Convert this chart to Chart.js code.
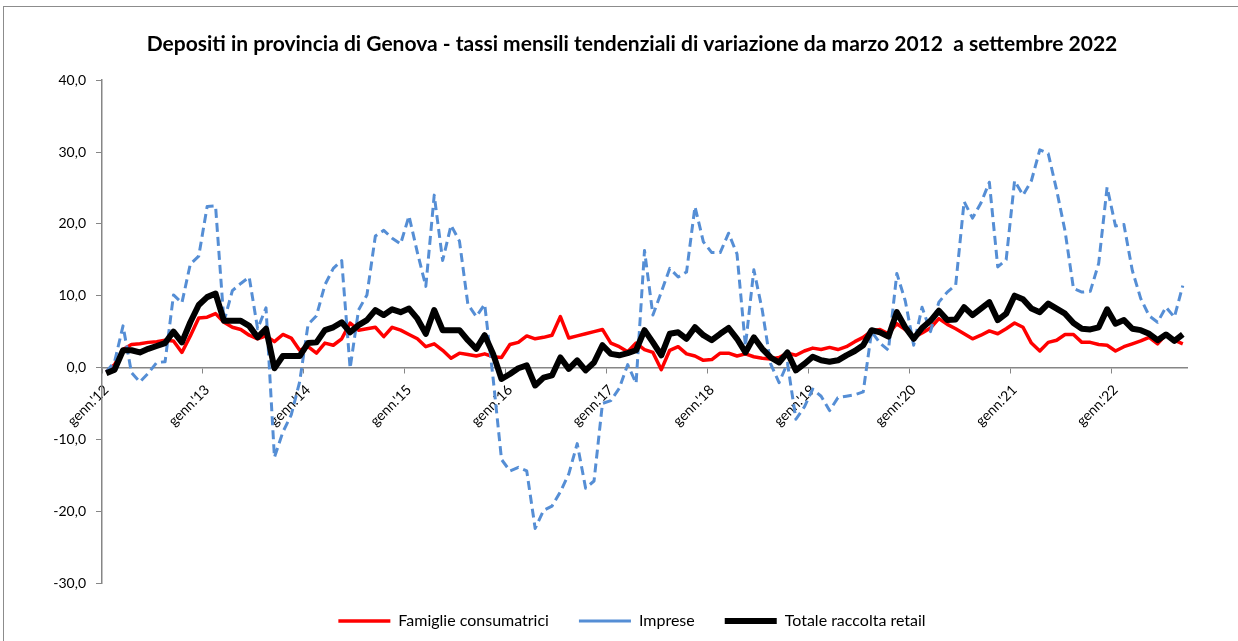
<!DOCTYPE html>
<html>
<head>
<meta charset="utf-8">
<script src="https://cdn.jsdelivr.net/npm/chart.js@4/dist/chart.umd.min.js"></script>
<style>
    body { margin: 0; background: #ffffff; overflow: hidden; }
    .frame { position: absolute; left: 3px; top: 6px; width: 1300px; height: 700px; border: 1px solid #8c8c8c; }
    #depositChart { position: absolute; left: 0; top: 0; }
</style>
</head>
<body>
<div class="frame"></div>
<canvas id="depositChart" width="1238" height="641"></canvas>
<script>
// --- Data: monthly values, gennaio 2012 - settembre 2022 ---
const yearTicks = ["genn.'12", "genn.'13", "genn.'14", "genn.'15", "genn.'16", "genn.'17",
    "genn.'18", "genn.'19", "genn.'20", "genn.'21", "genn.'22"];
const monthsInLastYear = 9;

const famiglie = [
    -0.6, 0.4, 2.5, 3.2, 3.3, 3.5, 3.6, 3.8, 3.7, 2.1, 4.4, 6.9,
    7.0, 7.5, 6.3, 5.6, 5.3, 4.5, 4.0, 4.4, 3.6, 4.6, 4.1, 2.4,
    2.9, 2.0, 3.4, 3.1, 4.0, 6.2, 5.2, 5.4, 5.6, 4.3, 5.6, 5.2,
    4.6, 4.0, 2.9, 3.3, 2.4, 1.3, 2.0, 1.8, 1.6, 1.9, 1.5, 1.4,
    3.2, 3.5, 4.4, 4.0, 4.2, 4.5, 7.1, 4.1, 4.4, 4.7, 5.0, 5.3,
    3.4, 2.9, 2.2, 3.4, 2.5, 2.1, -0.3, 2.4, 2.9, 1.9, 1.6, 1.0,
    1.1, 2.0, 2.0, 1.6, 1.9, 1.5, 1.3, 1.2, 1.4, 2.0, 1.7, 2.3,
    2.7, 2.5, 2.8, 2.5, 2.9, 3.6, 4.2, 5.1, 5.3, 4.7, 6.1, 5.3,
    4.2, 4.8, 5.5, 6.8, 6.0, 5.4, 4.7, 4.0, 4.5, 5.1, 4.7, 5.4,
    6.2, 5.6, 3.4, 2.3, 3.5, 3.8, 4.6, 4.6, 3.5, 3.5, 3.2, 3.1,
    2.3, 2.9, 3.3, 3.7, 4.2, 3.3, 4.6, 3.8, 3.3
];

const imprese = [
    -0.6, 0.8, 5.8, -0.7, -2.0, -0.8, 0.7, 0.8, 10.1, 9.0, 14.4, 15.5,
    22.4, 22.5, 6.4, 10.7, 11.7, 12.6, 5.4, 8.3, -12.5, -9.0, -6.6, -2.0,
    6.0, 7.2, 11.5, 13.8, 14.9, -0.1, 8.0, 10.1, 18.3, 19.1, 18.0, 17.2,
    21.1, 16.0, 11.3, 24.0, 14.9, 19.8, 17.6, 8.8, 7.1, 8.8, -1.5, -12.8,
    -14.4, -13.9, -14.4, -22.4, -19.9, -19.3, -17.3, -14.8, -10.6, -16.8, -15.8, -5.0,
    -4.6, -2.9, 0.4, -2.2, 16.3, 7.3, 10.5, 13.8, 12.6, 13.3, 22.4, 17.5,
    16.0, 16.0, 18.7, 15.8, 3.0, 13.6, 8.0, 0.5, -2.1, 0.6, -7.2, -5.5,
    -3.0, -4.0, -6.0, -4.2, -4.0, -3.8, -3.4, 5.0, 3.4, 2.4, 13.1, 9.3,
    3.1, 8.4, 5.0, 9.1, 10.5, 11.5, 23.1, 20.8, 22.9, 25.8, 14.0, 15.0,
    26.0, 24.0, 26.0, 30.3, 29.8, 24.7, 19.0, 11.0, 10.5, 10.6, 14.5, 25.1,
    19.7, 19.9, 13.5, 9.6, 7.2, 6.3, 8.4, 7.0, 11.4
];

const totale = [
    -0.8, -0.3, 2.4, 2.4, 2.1, 2.6, 3.0, 3.4, 5.0, 3.5, 6.3, 8.7,
    9.8, 10.3, 6.5, 6.5, 6.5, 5.8, 4.2, 5.4, -0.1, 1.6, 1.6, 1.6,
    3.4, 3.5, 5.2, 5.6, 6.3, 4.9, 5.9, 6.6, 8.0, 7.3, 8.1, 7.7,
    8.2, 6.8, 4.7, 8.0, 5.2, 5.2, 5.2, 3.8, 2.6, 4.5, 1.9, -1.6,
    -0.9, -0.1, 0.3, -2.5, -1.4, -1.1, 1.4, -0.2, 1.0, -0.4, 0.7, 3.1,
    1.9, 1.7, 2.0, 2.4, 5.2, 3.5, 1.7, 4.7, 4.9, 4.0, 5.6, 4.5,
    3.8, 4.7, 5.5, 4.0, 2.1, 4.2, 2.6, 1.4, 0.7, 2.1, -0.4, 0.5,
    1.5, 1.0, 0.8, 1.0, 1.7, 2.3, 3.1, 5.2, 4.9, 4.3, 7.7, 5.6,
    4.0, 5.5, 6.5, 7.9, 6.6, 6.7, 8.4, 7.3, 8.2, 9.1, 6.6, 7.5,
    10.0, 9.5, 8.2, 7.7, 8.9, 8.2, 7.5, 6.2, 5.4, 5.3, 5.6, 8.1,
    6.1, 6.6, 5.4, 5.2, 4.7, 3.8, 4.6, 3.7, 4.6
];

// one category per month, only January carries a label
const labels = [];
yearTicks.forEach((tick, y) => {
    const n = (y === yearTicks.length - 1) ? monthsInLastYear : 12;
    for (let m = 0; m < n; m++) labels.push(m === 0 ? tick : '');
});

const axisGray = '#868686';
const fontFamily = 'Lato, "Open Sans", sans-serif';

const ctx = document.getElementById('depositChart').getContext('2d');
new Chart(ctx, {
    type: 'line',
    data: {
        labels: labels,
        datasets: [{
            label: 'Famiglie consumatrici',
            data: famiglie,
            borderColor: '#ff0000',
            backgroundColor: '#ff0000',
            borderWidth: 3.5,
            order: 2
        }, {
            label: 'Imprese',
            data: imprese,
            borderColor: '#558ed5',
            backgroundColor: '#558ed5',
            borderWidth: 3,
            borderDash: [9, 5],
            order: 1
        }, {
            label: 'Totale raccolta retail',
            data: totale,
            borderColor: '#000000',
            backgroundColor: '#000000',
            borderWidth: 6,
            order: 0
        }]
    },
    options: {
        responsive: false,
        animation: false,
        elements: {
            point: { radius: 0 },
            line: { tension: 0, borderJoinStyle: 'round', borderCapStyle: 'butt' }
        },
        layout: { padding: { left: 26, right: 0, top: 0, bottom: 2 } },
        plugins: {
            title: {
                display: true,
                text: 'Depositi in provincia di Genova - tassi mensili tendenziali di variazione da marzo 2012  a settembre 2022',
                color: '#000000',
                font: { family: fontFamily, size: 21, weight: 'bold' },
                padding: { top: 32, bottom: 23 }
            },
            legend: {
                position: 'bottom',
                labels: {
                    usePointStyle: true,
                    pointStyle: 'line',
                    pointStyleWidth: 52,
                    padding: 30,
                    color: '#000000',
                    font: { family: fontFamily, size: 16 },
                    sort: (a, b) => a.datasetIndex - b.datasetIndex
                }
            },
            tooltip: { enabled: false }
        },
        scales: {
            x: {
                type: 'category',
                position: { y: 0 },
                offset: true,
                grid: {
                    display: true,
                    drawOnChartArea: false,
                    offset: true,
                    tickLength: 5,
                    color: c => (c.index % 12 === 0 ? axisGray : 'rgba(0,0,0,0)')
                },
                border: { display: true, color: axisGray, width: 1.5 },
                ticks: {
                    autoSkip: false,
                    maxRotation: 45,
                    minRotation: 45,
                    padding: 9,
                    color: '#000000',
                    font: { family: fontFamily, size: 14 }
                }
            },
            y: {
                min: -30,
                max: 40,
                afterFit: scale => { scale.width = 76; },
                grid: { drawOnChartArea: false, tickLength: 6, color: axisGray },
                border: { display: true, color: axisGray, width: 1.5 },
                ticks: {
                    stepSize: 10,
                    padding: 10,
                    color: '#000000',
                    font: { family: fontFamily, size: 14 },
                    callback: v => v.toFixed(1).replace('.', ',')
                }
            },
            // empty right-hand box that keeps the plot clear of the right edge
            yRight: {
                position: 'right',
                afterFit: scale => { scale.width = 51; },
                grid: { display: false },
                border: { display: false },
                ticks: { display: false }
            }
        }
    }
});
</script>
</body>
</html>
